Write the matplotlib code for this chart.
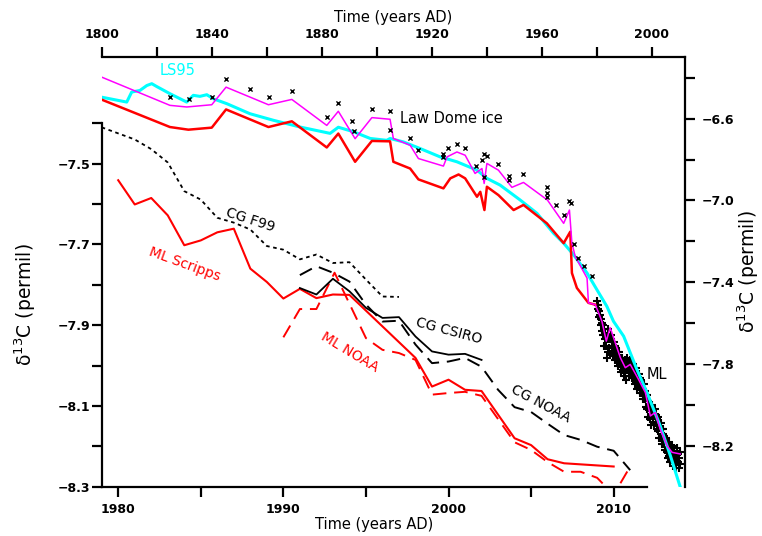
import matplotlib
matplotlib.use("Agg")
import matplotlib.pyplot as plt

plt.rcParams['font.family'] = ['DejaVu Sans']
plt.rcParams['axes.unicode_minus'] = True

# ---------------- bottom / left axis data (1979-2012) ----------------
f99_year = [1979, 1981, 1982, 1983, 1984, 1985, 1986, 1987, 1988, 1989, 1990, 1991,
            1992, 1993, 1994, 1995, 1996, 1997]
f99_val = [-7.41, -7.44, -7.464, -7.497, -7.568, -7.589, -7.634, -7.646, -7.663, -7.704,
           -7.713, -7.737, -7.725, -7.746, -7.744, -7.787, -7.829, -7.830]

scripps_year = [1980, 1981, 1982, 1983, 1984, 1985, 1986, 1987, 1988, 1989, 1990, 1991,
                1992, 1993, 1994, 1998, 1999, 2000, 2001, 2002, 2004, 2005, 2006, 2007, 2010]
scripps_val = [-7.541, -7.601, -7.585, -7.628, -7.702, -7.690, -7.670, -7.661, -7.760,
               -7.793, -7.834, -7.810, -7.833, -7.824, -7.825, -7.981, -8.052, -8.035,
               -8.060, -8.063, -8.180, -8.197, -8.232, -8.242, -8.250]

mlnoaa_year = [1990, 1991, 1992, 1993.1, 1995, 1996, 1997, 1998, 1999, 2000, 2001, 2002,
               2004, 2005, 2006, 2007, 2008, 2009, 2010, 2011]
mlnoaa_val = [-7.93, -7.86, -7.86, -7.77, -7.932, -7.961, -7.969, -7.986, -8.072, -8.068,
              -8.065, -8.075, -8.190, -8.209, -8.239, -8.263, -8.263, -8.278, -8.32, -8.25]

csiro_year = [1991, 1992, 1993, 1994, 1995, 1996, 1997, 1998, 1999, 2000, 2001, 2002]
csiro_val = [-7.808, -7.824, -7.785, -7.816, -7.857, -7.882, -7.880, -7.928, -7.965,
             -7.973, -7.971, -7.986]

cgnoaa_year = [1991, 1992, 1993, 1994, 1995, 1996, 1997, 1998, 1999, 2000, 2001, 2002,
               2003, 2004, 2005, 2006, 2007, 2008, 2009, 2010, 2011]
cgnoaa_val = [-7.776, -7.754, -7.770, -7.792, -7.849, -7.891, -7.889, -7.948, -7.994,
              -7.990, -7.981, -8.003, -8.060, -8.103, -8.115, -8.144, -8.172, -8.184,
              -8.201, -8.211, -8.259]

# ---------------- top / right axis data (1800-2012) ----------------
ls95_year = [1800.0, 1809.1, 1810.9, 1813.9, 1816.4, 1818.2, 1820.0, 1824.8, 1830.9, 1833.3,
             1835.7, 1838.2, 1840.6, 1845.5, 1853.9, 1862.4, 1872.1, 1883.0, 1886.0, 1891.5,
             1897.6, 1903.6, 1904.8, 1909.7, 1915.7, 1923.0, 1929.1, 1936.4, 1940.0, 1944.8,
             1952.1, 1958.2, 1964.2, 1967.9, 1971.5, 1976.4, 1980.0, 1983.6, 1986.0, 1989.7,
             1994.5, 1998.2, 2003.0, 2006.7, 2010.3]
ls95_val = [-6.495, -6.519, -6.470, -6.462, -6.438, -6.429, -6.443, -6.478, -6.519, -6.486,
            -6.491, -6.483, -6.503, -6.527, -6.576, -6.608, -6.641, -6.672, -6.642, -6.664,
            -6.697, -6.706, -6.697, -6.714, -6.746, -6.787, -6.811, -6.852, -6.892, -6.925,
            -6.998, -7.063, -7.160, -7.209, -7.266, -7.355, -7.437, -7.518, -7.591, -7.664,
            -7.826, -7.940, -8.103, -8.249, -8.403]

mag_year = [1800.0, 1824.8, 1830.9, 1840.0, 1845.2, 1860.6, 1869.1, 1881.8, 1886.0, 1892.1,
            1898.2, 1904.8, 1906.0, 1912.1, 1915.1, 1924.2, 1925.5, 1929.1, 1932.1, 1935.7,
            1938.2, 1939.0, 1940.0, 1944.2, 1949.1, 1953.3, 1962.0, 1967.9, 1970.0, 1970.9,
            1972.1, 1976.4, 1976.9, 1979.4, 1980.6, 1981.8, 1983.4, 1984.8, 1988.5, 1990.3,
            1992.1, 1995.1, 1997.6, 1999.4, 2001.2, 2003.0, 2005.5, 2007.3, 2010.3]
mag_val = [-6.397, -6.535, -6.543, -6.532, -6.446, -6.532, -6.506, -6.633, -6.564, -6.698,
           -6.595, -6.603, -6.697, -6.730, -6.795, -6.832, -6.787, -6.763, -6.779, -6.868,
           -6.844, -6.917, -6.819, -6.852, -6.936, -6.912, -6.998, -7.112, -7.047, -7.209,
           -7.274, -7.380, -7.501, -7.510, -7.550, -7.591, -7.688, -7.622, -7.769, -7.818,
           -7.802, -7.875, -7.940, -8.054, -8.037, -8.119, -8.200, -8.232, -8.240]

red_year = [1800.0, 1824.8, 1831.5, 1840.0, 1845.2, 1860.6, 1869.1, 1881.8, 1886.0, 1892.1,
            1898.2, 1904.8, 1906.0, 1912.1, 1915.1, 1924.2, 1926.7, 1929.7, 1932.1, 1936.4,
            1937.6, 1939.1, 1940.0, 1944.2, 1949.7, 1953.3, 1961.8, 1967.9, 1970.3, 1970.9,
            1972.7, 1976.9, 1979.4]
red_val = [-6.507, -6.641, -6.654, -6.644, -6.555, -6.641, -6.613, -6.741, -6.673, -6.811,
           -6.709, -6.711, -6.811, -6.844, -6.897, -6.941, -6.892, -6.873, -6.892, -6.982,
           -6.958, -7.047, -6.933, -6.974, -7.047, -7.022, -7.112, -7.209, -7.153, -7.355,
           -7.428, -7.501, -7.510]

ice_year = [1824.8, 1831.9, 1840.1, 1845.1, 1853.9, 1860.9, 1869.1, 1881.9, 1886.0, 1891.0,
            1891.6, 1898.1, 1904.8, 1904.8, 1912.1, 1915.1, 1924.0, 1924.2, 1926.0, 1929.1,
            1932.1, 1936.1, 1938.2, 1939.0, 1940.1, 1939.1, 1944.2, 1948.2, 1948.2, 1953.1,
            1962.0, 1962.0, 1962.0, 1965.2, 1968.1, 1969.7, 1970.5, 1971.5, 1973.1, 1975.4,
            1978.2]
ice_val = [-6.495, -6.506, -6.495, -6.405, -6.457, -6.495, -6.466, -6.592, -6.524, -6.613,
           -6.662, -6.553, -6.564, -6.654, -6.693, -6.754, -6.771, -6.787, -6.746, -6.722,
           -6.742, -6.831, -6.802, -6.774, -6.784, -6.885, -6.823, -6.881, -6.901, -6.873,
           -6.936, -6.962, -6.982, -7.022, -7.071, -7.001, -7.011, -7.212, -7.282, -7.323,
           -7.372]

# Mauna Loa flask observations (dense cloud, read approximately)
ml_year = [1980.1, 1980.3, 1980.5, 1980.7, 1980.9, 1981.1, 1981.3, 1981.5, 1981.7, 1981.9,
           1982.1, 1982.3, 1982.5, 1982.7, 1982.9, 1983.1, 1983.3, 1983.5, 1983.7, 1983.9,
           1984.1, 1984.3, 1984.5, 1984.7, 1984.9, 1985.1, 1985.3, 1985.5, 1985.7, 1985.9,
           1986.1, 1986.3, 1986.5, 1986.7, 1986.9, 1987.1, 1987.3, 1987.5, 1987.7, 1987.9,
           1988.1, 1988.3, 1988.5, 1988.7, 1988.9, 1989.1, 1989.3, 1989.5, 1989.7, 1989.9,
           1990.1, 1990.3, 1990.5, 1990.7, 1990.9, 1991.1, 1991.3, 1991.5, 1991.7, 1991.9,
           1992.1, 1992.3, 1992.5, 1992.7, 1992.9, 1993.1, 1993.3, 1993.5, 1993.7, 1993.9,
           1994.1, 1994.3, 1994.5, 1994.7, 1994.9, 1995.1, 1995.3, 1995.5, 1995.7, 1995.9,
           1996.1, 1996.3, 1996.5, 1996.7, 1996.9, 1997.1, 1997.3, 1997.5, 1997.7, 1997.9,
           1998.1, 1998.3, 1998.5, 1998.7, 1998.9, 1999.1, 1999.3, 1999.5, 1999.7, 1999.9,
           2000.1, 2000.3, 2000.5, 2000.7, 2000.9, 2001.1, 2001.3, 2001.5, 2001.7, 2001.9,
           2002.1, 2002.3, 2002.5, 2002.7, 2002.9, 2003.1, 2003.3, 2003.5, 2003.7, 2003.9,
           2004.1, 2004.3, 2004.5, 2004.7, 2004.9, 2005.1, 2005.3, 2005.5, 2005.7, 2005.9,
           2006.1, 2006.3, 2006.5, 2006.7, 2006.9, 2007.1, 2007.3, 2007.5, 2007.7, 2007.9,
           2008.1, 2008.3, 2008.5, 2008.7, 2008.9, 2009.1, 2009.3, 2009.5, 2009.7, 2009.9,
           2010.1, 2010.3]
ml_val = [-7.49, -7.53, -7.51, -7.57, -7.54, -7.56, -7.61, -7.58, -7.64, -7.60,
          -7.61, -7.66, -7.63, -7.71, -7.68, -7.65, -7.71, -7.77, -7.68, -7.74,
          -7.63, -7.68, -7.72, -7.75, -7.67, -7.66, -7.72, -7.69, -7.76, -7.71,
          -7.69, -7.75, -7.71, -7.78, -7.74, -7.72, -7.78, -7.74, -7.81, -7.77,
          -7.74, -7.80, -7.77, -7.84, -7.79, -7.77, -7.83, -7.79, -7.86, -7.82,
          -7.78, -7.84, -7.81, -7.88, -7.83, -7.77, -7.83, -7.79, -7.86, -7.81,
          -7.78, -7.84, -7.80, -7.87, -7.83, -7.80, -7.87, -7.83, -7.90, -7.85,
          -7.82, -7.89, -7.85, -7.92, -7.87, -7.85, -7.91, -7.87, -7.94, -7.89,
          -7.88, -7.94, -7.90, -7.97, -7.92, -7.90, -7.97, -7.93, -8.01, -7.95,
          -7.95, -8.02, -7.98, -8.06, -8.01, -8.00, -8.07, -8.03, -8.10, -8.05,
          -8.00, -8.07, -8.03, -8.10, -8.05, -8.02, -8.09, -8.05, -8.12, -8.07,
          -8.06, -8.13, -8.09, -8.16, -8.11, -8.09, -8.16, -8.12, -8.19, -8.14,
          -8.12, -8.19, -8.15, -8.22, -8.17, -8.16, -8.23, -8.19, -8.26, -8.21,
          -8.18, -8.25, -8.21, -8.28, -8.23, -8.20, -8.27, -8.23, -8.30, -8.25,
          -8.21, -8.28, -8.24, -8.31, -8.26, -8.21, -8.28, -8.24, -8.31, -8.26,
          -8.23, -8.29]

# tick definitions
bot_ticks = [1980, 1985, 1990, 1995, 2000, 2005, 2010]
bot_labels = ['1980', '', '1990', '', '2000', '', '2010']
left_ticks = [-8.3, -8.2, -8.1, -8.0, -7.9, -7.8, -7.7, -7.6, -7.5, -7.4]
left_labels = ['−8.3', '', '−8.1', '', '−7.9', '', '−7.7', '', '−7.5', '']
top_ticks = [1800, 1820, 1840, 1860, 1880, 1900, 1920, 1940, 1960, 1980, 2000]
top_labels = ['1800', '', '1840', '', '1880', '', '1920', '', '1960', '', '2000']
right_ticks = [-8.2, -8.0, -7.8, -7.6, -7.4, -7.2, -7.0, -6.8, -6.6, -6.4]
right_labels = ['−8.2', '', '−7.8', '', '−7.4', '', '−7.0', '', '−6.6', '']

W, H = 762, 536
fig = plt.figure(figsize=(W / 100, H / 100), dpi=100)
L, R1, R2, B, T1, T2 = 101.7, 646.7, 685.0, 486.7, 123.3, 57.3
ax1 = fig.add_axes([L / W, 1 - B / H, (R1 - L) / W, (B - T1) / H])
ax2 = fig.add_axes([L / W, 1 - B / H, (R2 - L) / W, (B - T2) / H])
ax2.patch.set_visible(False)

tickfont = dict(fontsize=9, fontweight='bold')

# ---- axis 1 ----
ax1.set_xlim(1979, 2012)
ax1.set_ylim(-8.3, -7.4)
for s in ['top', 'right']:
    ax1.spines[s].set_visible(False)
for s in ['left', 'bottom']:
    ax1.spines[s].set_linewidth(1.6)
ax1.set_xticks(bot_ticks)
ax1.set_xticklabels(bot_labels, **tickfont)
ax1.set_yticks(left_ticks)
ax1.set_yticklabels(left_labels, **tickfont)
ax1.tick_params(axis='x', direction='out', length=7, width=1.6, pad=5)
ax1.tick_params(axis='y', direction='out', length=7, width=1.6, pad=1)
ax1.set_xlabel('Time (years AD)', fontsize=10.5, labelpad=0.5)
ax1.set_ylabel('δ$^{13}$C (permil)', fontsize=13.5, labelpad=14)

ax1.plot(f99_year, f99_val, color='black', lw=1.3, ls=(0, (2, 2)))
ax1.plot(scripps_year, scripps_val, color='red', lw=1.5)
ax1.plot(mlnoaa_year, mlnoaa_val, color='red', lw=1.4, ls=(0, (7, 4)))
ax1.plot(csiro_year, csiro_val, color='black', lw=1.3)
ax1.plot(cgnoaa_year, cgnoaa_val, color='black', lw=1.4, ls=(0, (7, 4)))

lab = dict(fontsize=10, ha='center', va='center', rotation_mode='anchor')
ax1.text(1988.0, -7.639, 'CG F99', rotation=-18, color='black', **lab)
ax1.text(1984.0, -7.750, 'ML Scripps', rotation=-20, color='red', **lab)
ax1.text(1994.0, -7.968, 'ML NOAA', rotation=-31, color='red', **lab)
ax1.text(2000.0, -7.914, 'CG CSIRO', rotation=-15, color='black', **lab)
ax1.text(2005.6, -8.095, 'CG NOAA', rotation=-28, color='black', **lab)

# ---- axis 2 ----
ax2.set_xlim(1800, 2012)
ax2.set_ylim(-8.4, -6.3)
for s in ['bottom', 'left']:
    ax2.spines[s].set_visible(False)
for s in ['top', 'right']:
    ax2.spines[s].set_linewidth(1.6)
ax2.xaxis.tick_top()
ax2.xaxis.set_label_position('top')
ax2.yaxis.tick_right()
ax2.yaxis.set_label_position('right')
ax2.set_xticks(top_ticks)
ax2.set_xticklabels(top_labels, **tickfont)
ax2.set_yticks(right_ticks)
ax2.set_yticklabels(right_labels, **tickfont)
ax2.tick_params(axis='x', direction='out', length=7, width=1.6, pad=5)
ax2.tick_params(axis='y', direction='out', length=7, width=1.6, pad=5)
ax2.set_xlabel('Time (years AD)', fontsize=10.5, labelpad=4)
ax2.set_ylabel('δ$^{13}$C (permil)', fontsize=13.5, labelpad=1)

ax2.scatter(ml_year, ml_val, marker='+', s=26, color='black', linewidths=1.5, zorder=2)
ax2.plot(ls95_year, ls95_val, color='cyan', lw=2.2, zorder=3)
ax2.plot(red_year, red_val, color='red', lw=1.8, zorder=4)
ax2.plot(mag_year, mag_val, color='magenta', lw=1.1, zorder=5)
ax2.scatter(ice_year, ice_val, marker='x', s=9, color='black', linewidths=1.0, zorder=6)

lab2 = dict(fontsize=10.5, va='center')
ax2.text(1827.7, -6.365, 'LS95', color='cyan', ha='center', **lab2)
ax2.text(1908.5, -6.600, 'Law Dome ice', color='black', ha='left', **lab2)
ax2.text(2001.6, -7.851, 'ML', color='black', ha='center', **lab2)

fig.savefig('out.png', dpi=100)
